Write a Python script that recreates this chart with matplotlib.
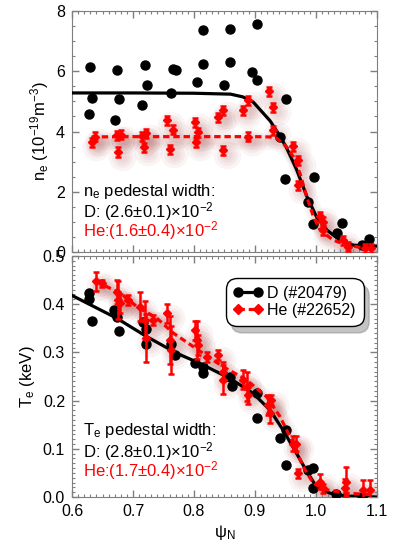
import numpy as np
import matplotlib
matplotlib.use('Agg')
import matplotlib.pyplot as plt
from matplotlib.transforms import offset_copy
from matplotlib.ticker import MultipleLocator

# ------------------------------ Data ------------------------------

# n_e, D (#20479)
psi_ne_d = [0.630, 0.633, 0.627, 0.674, 0.677, 0.670, 0.720, 0.723, 0.714, 0.763, 0.766, 0.770,
            0.814, 0.814, 0.805, 0.859, 0.859, 0.850, 0.904, 0.895, 0.904, 0.951, 0.941, 0.950,
            0.997, 0.987, 0.996, 1.042, 1.034, 1.087, 1.075]
ne_d = [6.13, 5.11, 4.57, 6.05, 5.09, 4.39, 6.21, 5.56, 4.87, 5.27, 6.08, 6.03,
        7.37, 6.25, 5.64, 7.40, 6.29, 5.53, 7.57, 5.97, 5.70, 5.08, 3.82, 2.42,
        2.49, 1.65, 0.93, 0.95, 0.62, 0.42, 0.23]

psi_ne_fit_d = [0.60, 0.70, 0.80, 0.86, 0.88, 0.897, 0.925, 0.941, 0.952, 0.968, 0.985, 1.001,
                1.018, 1.039, 1.061, 1.083, 1.10]
ne_fit_d = [5.28, 5.28, 5.27, 5.24, 5.15, 4.98, 4.35, 3.85, 3.45, 2.75, 1.85, 1.17,
            0.73, 0.40, 0.23, 0.20, 0.20]

# n_e, He (#22652)
psi_ne_he = [0.633, 0.638, 0.676, 0.673, 0.680, 0.718, 0.714, 0.721, 0.756, 0.761, 0.765,
             0.802, 0.804, 0.806, 0.840, 0.848, 0.847, 0.881, 0.889, 0.889, 0.923, 0.930, 0.930,
             0.963, 0.970, 0.971, 1.006, 1.012, 1.012, 1.044, 1.053, 1.080, 1.091]
ne_he = [3.65, 3.82, 3.32, 3.87, 3.90, 3.47, 3.85, 3.95, 4.37, 3.41, 4.06,
         4.31, 3.65, 3.98, 4.48, 4.70, 3.38, 4.70, 5.03, 3.82, 5.34, 4.81, 4.04,
         3.51, 3.05, 2.22, 1.19, 1.00, 0.73, 0.40, 0.18, 0.12, 0.12]
ne_he_err = [0.15] * len(ne_he)

psi_ne_fit_he = [0.632, 0.70, 0.80, 0.90, 0.925, 0.936, 0.952, 0.963, 0.974, 0.985, 0.996,
                 1.007, 1.028, 1.050, 1.072, 1.095]
ne_fit_he = [3.82, 3.83, 3.83, 3.83, 3.82, 3.77, 3.49, 3.16, 2.60, 1.83, 1.17,
             0.73, 0.40, 0.23, 0.16, 0.12]

# T_e, D (#20479)
psi_te_d = [0.628, 0.627, 0.633, 0.669, 0.677, 0.673, 0.717, 0.722, 0.721, 0.763, 0.769,
            0.802, 0.815, 0.814, 0.859, 0.862, 0.904, 0.904, 0.951, 0.941, 0.951,
            0.996, 0.987, 0.996, 1.033, 1.075]
te_d = [0.423, 0.410, 0.365, 0.388, 0.344, 0.374, 0.362, 0.317, 0.348, 0.317, 0.295,
        0.277, 0.270, 0.257, 0.248, 0.230, 0.216, 0.163, 0.139, 0.122, 0.066,
        0.060, 0.056, 0.018, 0.006, 0.001]

psi_te_fit_d = [0.60, 0.673, 0.722, 0.772, 0.810, 0.859, 0.897, 0.925, 0.946, 0.968, 0.985,
                1.001, 1.023, 1.050, 1.10]
te_fit_d = [0.418, 0.371, 0.333, 0.298, 0.277, 0.246, 0.215, 0.180, 0.139, 0.091, 0.053,
            0.021, 0.008, 0.002, 0.0]

# T_e, He (#22652)
psi_te_he = [0.639, 0.649, 0.673, 0.676, 0.679, 0.692, 0.711, 0.719, 0.721, 0.733, 0.756,
             0.761, 0.763, 0.802, 0.805, 0.807, 0.821, 0.840, 0.848, 0.848, 0.881, 0.887,
             0.889, 0.922, 0.925, 0.927, 0.963, 0.968, 0.971, 1.007, 1.012, 1.047, 1.049,
             1.078, 1.089]
te_he = [0.447, 0.443, 0.426, 0.409, 0.402, 0.409, 0.395, 0.367, 0.329, 0.367, 0.381,
         0.326, 0.305, 0.346, 0.326, 0.315, 0.291, 0.295, 0.260, 0.243, 0.243, 0.229,
         0.212, 0.191, 0.174, 0.201, 0.111, 0.111, 0.049, 0.032, 0.018, 0.018, 0.032,
         0.015, 0.015]
te_he_err = [0.020, 0.008, 0.025, 0.040, 0.020, 0.010, 0.030, 0.040, 0.050, 0.010, 0.020,
             0.050, 0.050, 0.020, 0.040, 0.020, 0.010, 0.010, 0.020, 0.030, 0.020, 0.030,
             0.020, 0.020, 0.020, 0.010, 0.015, 0.015, 0.010, 0.015, 0.010, 0.020, 0.030,
             0.020, 0.020]

psi_te_fit_he = [0.639, 0.679, 0.706, 0.739, 0.766, 0.815, 0.848, 0.886, 0.919, 0.941, 0.963,
                 0.979, 0.996, 1.018, 1.050, 1.090]
te_fit_he = [0.447, 0.423, 0.395, 0.371, 0.340, 0.298, 0.270, 0.243, 0.208, 0.167, 0.111,
             0.063, 0.028, 0.015, 0.008, 0.005]

# ------------------------------ Style ------------------------------

plt.rcParams['font.family'] = ['Liberation Sans', 'DejaVu Sans']
plt.rcParams['mathtext.fontset'] = 'custom'
plt.rcParams['mathtext.rm'] = 'Liberation Sans'
plt.rcParams['mathtext.it'] = 'Liberation Sans:italic'

RED = '#ff0000'
SPINE = '#7f7f7f'

fig = plt.figure(figsize=(3.98, 5.48), dpi=100)
ax1 = fig.add_axes([0.181, 0.540, 0.766, 0.440])
ax2 = fig.add_axes([0.181, 0.093, 0.766, 0.440])


def shadow(ax, x, y, line=False):
    # soft red glow offset to lower right, faked with a few transparent layers
    tr = offset_copy(ax.transData, fig=fig, x=4, y=-5, units='dots')
    for ms, lw in [(20, 12), (15, 9), (11, 6), (7, 4)]:
        if line:
            ax.plot(x, y, '-', color='#a03535', lw=lw, alpha=0.045, transform=tr, zorder=1,
                    solid_capstyle='round')
        else:
            ax.plot(x, y, 'o', color='#a03535', ms=ms, mew=0, alpha=0.05, transform=tr, zorder=1)


def style_axes(ax):
    for s in ax.spines.values():
        s.set_color(SPINE)
    ax.tick_params(which='both', direction='in', top=True, right=True, labelsize=11.5,
                   color=SPINE, pad=5)
    ax.tick_params(which='major', length=5, width=1)
    ax.tick_params(which='minor', length=2.5, width=0.8)
    ax.set_xlim(0.6, 1.1)
    ax.xaxis.set_major_locator(MultipleLocator(0.1))
    ax.xaxis.set_minor_locator(MultipleLocator(0.01))


# ------------------------------ Top panel: n_e ------------------------------

shadow(ax1, psi_ne_fit_he, ne_fit_he, line=True)
shadow(ax1, psi_ne_he, ne_he)
ax1.plot(psi_ne_d, ne_d, 'o', color='black', ms=6.5, zorder=3)
ax1.plot(psi_ne_fit_d, ne_fit_d, '-', color='black', lw=2.3, zorder=4)
ax1.errorbar(psi_ne_he, ne_he, yerr=ne_he_err, fmt='D', color=RED, ms=4, elinewidth=1.8,
             capsize=2.5, capthick=1.8, zorder=5)
ax1.plot(psi_ne_fit_he, ne_fit_he, '--', color=RED, lw=2.3, dashes=(2, 1.2), zorder=5)

style_axes(ax1)
ax1.set_ylim(0, 8)
ax1.yaxis.set_major_locator(MultipleLocator(2))
ax1.yaxis.set_minor_locator(MultipleLocator(0.5))
ax1.set_xticklabels([])
ax1.set_ylabel(r'n$_\mathregular{e}$ (10$^\mathregular{-19}$m$^\mathregular{-3}$)', fontsize=12)

ax1.text(0.036, 0.250, r'n$_\mathregular{e}$ pedestal width:', transform=ax1.transAxes,
         fontsize=12, va='center')
ax1.text(0.036, 0.168, r'D: (2.6$\pm$0.1)$\times$10$^\mathregular{-2}$', transform=ax1.transAxes,
         fontsize=12, va='center')
ax1.text(0.036, 0.088, r'He:(1.6$\pm$0.4)$\times$10$^\mathregular{-2}$', transform=ax1.transAxes,
         fontsize=12, va='center', color=RED)

# ------------------------------ Bottom panel: T_e ------------------------------

shadow(ax2, psi_te_fit_he, te_fit_he, line=True)
shadow(ax2, psi_te_he, te_he)
ax2.plot(psi_te_d, te_d, 'o', color='black', ms=6.5, zorder=3)
ax2.plot(psi_te_fit_d, te_fit_d, '-', color='black', lw=2.3, zorder=4)
ax2.errorbar(psi_te_he, te_he, yerr=te_he_err, fmt='D', color=RED, ms=4, elinewidth=1.8,
             capsize=2.5, capthick=1.8, zorder=5)
ax2.plot(psi_te_fit_he, te_fit_he, '--', color=RED, lw=2.3, dashes=(2, 1.2), zorder=5)

style_axes(ax2)
ax2.set_ylim(0, 0.5)
ax2.yaxis.set_major_locator(MultipleLocator(0.1))
ax2.yaxis.set_minor_locator(MultipleLocator(0.01))
ax2.yaxis.set_major_formatter(plt.FormatStrFormatter('%.1f'))
ax2.set_ylabel(r'T$_\mathregular{e}$ (keV)', fontsize=12)
ax2.set_xlabel(r'ψ$_\mathregular{N}$', fontsize=12, labelpad=3)

ax2.text(0.036, 0.276, r'T$_\mathregular{e}$ pedestal width:', transform=ax2.transAxes,
         fontsize=12, va='center')
ax2.text(0.036, 0.190, r'D: (2.8$\pm$0.1)$\times$10$^\mathregular{-2}$', transform=ax2.transAxes,
         fontsize=12, va='center')
ax2.text(0.036, 0.108, r'He:(1.7$\pm$0.4)$\times$10$^\mathregular{-2}$', transform=ax2.transAxes,
         fontsize=12, va='center', color=RED)

# legend
h_d, = ax2.plot([], [], '-o', color='black', lw=2.3, ms=6.5)
h_he, = ax2.plot([], [], '--D', color=RED, lw=2.3, ms=5, dashes=(2, 1.2))
leg = ax2.legend([h_d, h_he], ['D (#20479)', 'He (#22652)'], loc='upper right',
                 bbox_to_anchor=(0.972, 0.93), fontsize=11.5, numpoints=2, handlelength=1.8,
                 handletextpad=0.3, borderpad=0.3, labelspacing=0.15, framealpha=1,
                 fancybox=True, shadow={'color': '#888888', 'alpha': 0.5, 'ox': 4, 'oy': -5})
leg.get_frame().set_edgecolor('black')
leg.get_frame().set_linewidth(1.0)
leg.get_frame().set_boxstyle('round,pad=0.2,rounding_size=0.7')

fig.savefig('out.png', dpi=100)
